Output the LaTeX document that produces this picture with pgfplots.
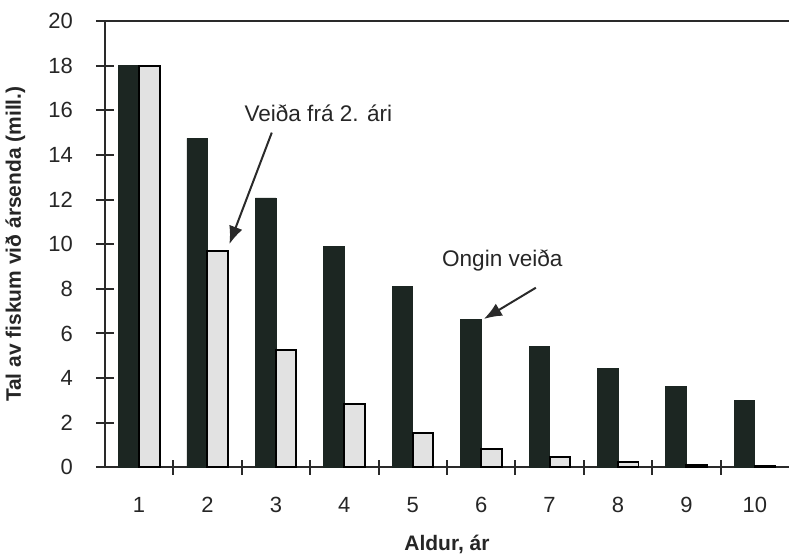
\documentclass[border=0pt]{standalone}
\usepackage{fontspec}
\setmainfont{Liberation Sans}
\usepackage{pgfplots}
\pgfplotsset{compat=1.18}
\usetikzlibrary{arrows.meta}
\definecolor{darkbar}{HTML}{1C2622}
\definecolor{lightbar}{HTML}{E2E2E2}
\definecolor{axcol}{HTML}{2A2A2A}
\begin{document}
\begin{tikzpicture}
\begin{axis}[name=ax, scale only axis, width=342.5pt, height=223.5pt,
  xmin=0.5, xmax=10.5, ymin=0, ymax=20,
  axis x line*=bottom, axis y line*=left,
  axis line style={line width=1pt, axcol},
  ytick={0,2,...,20},
  xtick={1,...,10},
  minor xtick={1.5,2.5,...,9.5},
  major x tick style={draw=none},
  tick align=center,
  major tick length=9pt, minor tick length=7.5pt,
  every tick/.style={line width=1pt, axcol},
  /pgf/number format/assume math mode=true,
  ticklabel style={font=\fontsize{11}{12}\selectfont, text=black!85},
  xticklabel style={yshift=-7pt},
  yticklabel style={xshift=-8pt},
  xlabel={\textbf{Aldur, ár}},
  ylabel={\textbf{Tal av fiskum við ársenda (mill.)}},
  label style={font=\fontsize{10.5}{12}\selectfont, text=black!85},
  xlabel style={at={(axis description cs:0.5,-0.172)}, anchor=center},
  ylabel style={at={(axis description cs:-0.131,0.5)}, anchor=center},
  clip=false,
]
\addplot[ybar, bar width=0.3, bar shift=-0.15, fill=darkbar, draw=darkbar] coordinates {
  (1,18) (2,14.74) (3,12.07) (4,9.88) (5,8.09) (6,6.62) (7,5.42) (8,4.44) (9,3.63) (10,2.98)};
\addplot[ybar, bar width=0.3, bar shift=0.15, fill=lightbar, draw=black, line width=1pt] coordinates {
  (1,18) (2,9.7) (3,5.25) (4,2.85) (5,1.55) (6,0.84) (7,0.45) (8,0.25) (9,0.13) (10,0.07)};
\draw[axcol, line width=1pt] (rel axis cs:0,1) -- (rel axis cs:1,1);
\node[font=\fontsize{11.3}{12}\selectfont, text=black!85] at (axis cs:3.62,15.85) {Veiða frá 2. ári};
\draw[-{Latex[length=9pt,width=7pt]}, line width=1pt, axcol] (axis cs:2.94,15.0) -- (axis cs:2.32,10.0);
\node[font=\fontsize{11.3}{12}\selectfont, text=black!85] at (axis cs:6.31,9.25) {Ongin veiða};
\draw[-{Latex[length=9pt,width=7pt]}, line width=1pt, axcol] (axis cs:6.8,8.05) -- (axis cs:6.04,6.65);
\end{axis}
\pgfresetboundingbox
\path[use as bounding box] ([xshift=-52.5pt,yshift=-45pt]ax.south west) rectangle ([yshift=10.5pt]ax.north east);
\end{tikzpicture}
\end{document}
